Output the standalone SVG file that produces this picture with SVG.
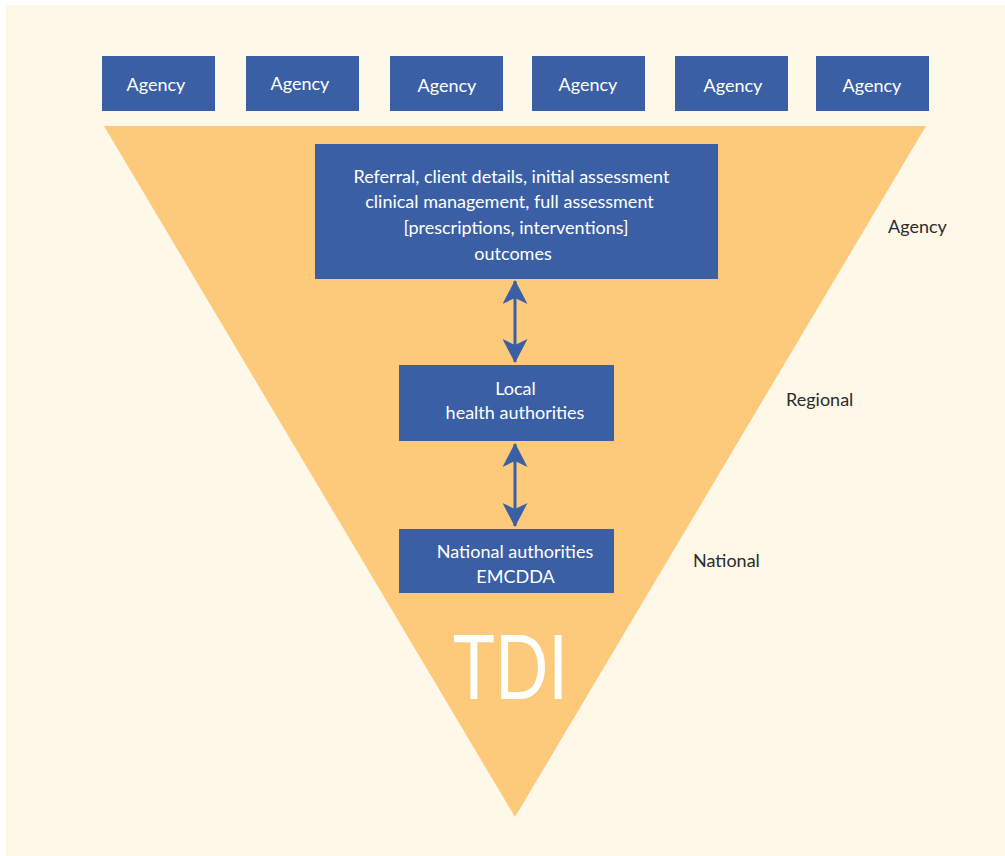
<svg xmlns="http://www.w3.org/2000/svg" width="1005" height="856" viewBox="0 0 1005 856">
<style>
.box{fill:#3b5fa5}
.wt{fill:#ffffff;font-family:Lato,"Liberation Sans",sans-serif;font-size:18px;text-anchor:middle}
.side{fill:#2b2b2b;font-family:Lato,"Liberation Sans",sans-serif;font-size:18px}
.conn{stroke:#3b5fa5;stroke-width:3;fill:none}
</style>
<defs>
<marker id="ah" markerUnits="userSpaceOnUse" viewBox="0 0 24 25" markerWidth="24" markerHeight="25" refX="23" refY="12.5" orient="auto-start-reverse">
<path d="M24,12.5 L0,0 L6,12.5 L0,25 Z" fill="#3b5fa5"/>
</marker>
</defs>
<rect x="0" y="0" width="1005" height="856" fill="#ffffff"/>
<rect x="6" y="5" width="999" height="851" fill="#fef8e9"/>
<polygon id="funnel" points="104,126 926,126 515,817" fill="#fdc97b"/>
<g id="agency1"><rect class="box" x="102" y="56" width="113" height="55"/><text class="wt" x="156" y="91">Agency</text></g>
<g id="agency2"><rect class="box" x="246" y="56" width="113" height="55"/><text class="wt" x="300" y="90">Agency</text></g>
<g id="agency3"><rect class="box" x="390" y="56" width="113" height="55"/><text class="wt" x="447" y="92">Agency</text></g>
<g id="agency4"><rect class="box" x="532" y="56" width="113" height="55"/><text class="wt" x="588" y="91">Agency</text></g>
<g id="agency5"><rect class="box" x="675" y="56" width="113" height="55"/><text class="wt" x="733" y="92">Agency</text></g>
<g id="agency6"><rect class="box" x="816" y="56" width="113" height="55"/><text class="wt" x="872" y="92">Agency</text></g>
<g id="agency-level">
<rect class="box" x="315" y="144" width="403" height="135"/>
<text class="wt" x="511.5" y="183">Referral, client details, initial assessment</text>
<text class="wt" x="509.5" y="208">clinical management, full assessment</text>
<text class="wt" x="516" y="234">[prescriptions, interventions]</text>
<text class="wt" x="513" y="260">outcomes</text>
</g>
<g id="regional-level">
<rect class="box" x="399" y="365" width="215" height="76"/>
<text class="wt" x="515.5" y="395">Local</text>
<text class="wt" x="515" y="419">health authorities</text>
</g>
<g id="national-level">
<rect class="box" x="399" y="529" width="215" height="64"/>
<text class="wt" x="515" y="558">National authorities</text>
<text class="wt" x="515.5" y="583">EMCDDA</text>
</g>
<g id="connectors">
<path class="conn" d="M515,281 L515,362" marker-start="url(#ah)" marker-end="url(#ah)"/>
<path class="conn" d="M515,444 L515,526" marker-start="url(#ah)" marker-end="url(#ah)"/>
</g>
<text id="tdi" x="510.5" y="699" fill="#ffffff" font-family="Lato,'Liberation Sans',sans-serif" font-size="90" text-anchor="middle" textLength="115" lengthAdjust="spacingAndGlyphs">TDI</text>
<text class="side" x="888" y="233">Agency</text>
<text class="side" x="786" y="406">Regional</text>
<text class="side" x="693" y="567">National</text>
</svg>
